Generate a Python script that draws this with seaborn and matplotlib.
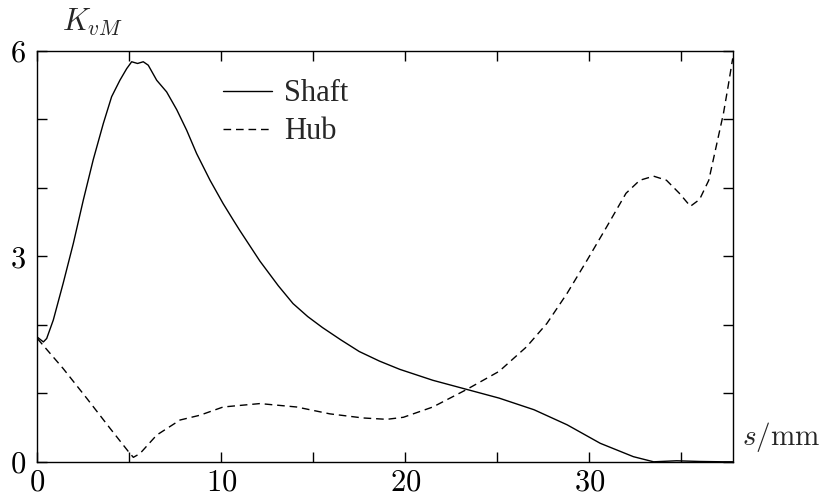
import matplotlib
matplotlib.use('Agg')
import matplotlib.pyplot as plt
import seaborn as sns

# values (s in mm, K_vM)
shaft_s = [0, 0.33, 0.51, 0.87, 1.41, 1.96, 2.5, 3.04, 3.59, 4.04, 4.49, 4.86,
           5.13, 5.45, 5.76, 6.03, 6.49, 7.03, 7.58, 8.12, 8.66, 9.39, 10.1,
           10.65, 11.0, 12.1, 13.1, 13.9, 14.7, 15.5, 16.5, 17.5, 18.6, 19.7,
           21.5, 23.3, 25.1, 27.0, 28.8, 30.6, 32.4, 33.5, 34.75, 36.0, 37.3, 37.8]
shaft_k = [1.82, 1.75, 1.80, 2.07, 2.61, 3.19, 3.82, 4.41, 4.94, 5.33, 5.57, 5.74,
           5.84, 5.815, 5.84, 5.79, 5.57, 5.40, 5.14, 4.84, 4.50, 4.11, 3.77,
           3.53, 3.38, 2.93, 2.57, 2.31, 2.12, 1.96, 1.78, 1.61, 1.47, 1.35,
           1.19, 1.06, 0.93, 0.76, 0.54, 0.27, 0.075, 0.0, 0.015, 0.005, 0.0, 0.0]

hub_s = [0, 1.41, 2.68, 3.95, 4.95, 5.22, 5.58, 6.49, 7.76, 8.84, 10.1, 12.1,
         14.1, 15.9, 17.7, 19.0, 19.9, 21.5, 23.3, 25.1, 26.6, 27.7, 28.8, 29.9,
         30.95, 32.0, 32.75, 33.5, 34.2, 34.9, 35.5, 36.0, 36.5, 36.9, 37.3,
         37.55, 37.8]
hub_k = [1.80, 1.36, 0.93, 0.49, 0.15, 0.065, 0.12, 0.39, 0.61, 0.68, 0.80, 0.85,
         0.80, 0.70, 0.64, 0.62, 0.65, 0.80, 1.05, 1.32, 1.68, 2.02, 2.46, 2.95,
         3.43, 3.92, 4.11, 4.17, 4.11, 3.92, 3.73, 3.83, 4.11, 4.60, 5.09,
         5.48, 5.89]

x_ticks = [0, 5, 10, 15, 20, 25, 30, 35]
x_labels = ['0', '', '10', '', '20', '', '30', '']
y_ticks = [0, 1, 2, 3, 4, 5, 6]
y_labels = ['0', '', '', '3', '', '', '6']

sns.set_theme(style='ticks')
plt.rcParams['font.family'] = ['Liberation Serif', 'DejaVu Serif']
plt.rcParams['mathtext.fontset'] = 'cm'

fig = plt.figure(figsize=(8.28, 5), dpi=100)
ax = fig.add_axes([37.3 / 828, 1 - 461.8 / 500, 695.4 / 828, 411 / 500])

sns.lineplot(x=shaft_s, y=shaft_k, ax=ax, color='black', lw=1.0, label='Shaft')
sns.lineplot(x=hub_s, y=hub_k, ax=ax, color='black', lw=1.0, label='Hub',
             dashes=False, linestyle=(0, (5.5, 3.5)))

ax.set_xlim(0, 37.8)
ax.set_ylim(0, 6)
ax.set_xticks(x_ticks)
ax.set_xticklabels(['$%s$' % t if t else '' for t in x_labels])
ax.set_yticks(y_ticks)
ax.set_yticklabels(['$%s$' % t if t else '' for t in y_labels])
ax.tick_params(direction='in', length=7, width=1, colors='black',
               top=True, right=True, labelsize=22)
ax.tick_params(axis='x', pad=5)
ax.tick_params(axis='y', pad=8)
for sp in ax.spines.values():
    sp.set_color('black')
    sp.set_linewidth(1.0)

ax.text(0.035, 1.03, r'$K_{vM}$', transform=ax.transAxes, fontsize=22,
        ha='left', va='bottom')
ax.text(1.013, 0.06, r'$s/\mathrm{mm}$', transform=ax.transAxes, fontsize=21,
        ha='left', va='center')

leg = ax.legend(loc='upper left', bbox_to_anchor=(0.245, 0.968), frameon=False,
                fontsize=22, handlelength=1.6, handletextpad=0.4,
                labelspacing=0.3, borderpad=0)
for h in leg.get_lines():
    h.set_linewidth(1.0)

fig.savefig('out.png', dpi=100)
